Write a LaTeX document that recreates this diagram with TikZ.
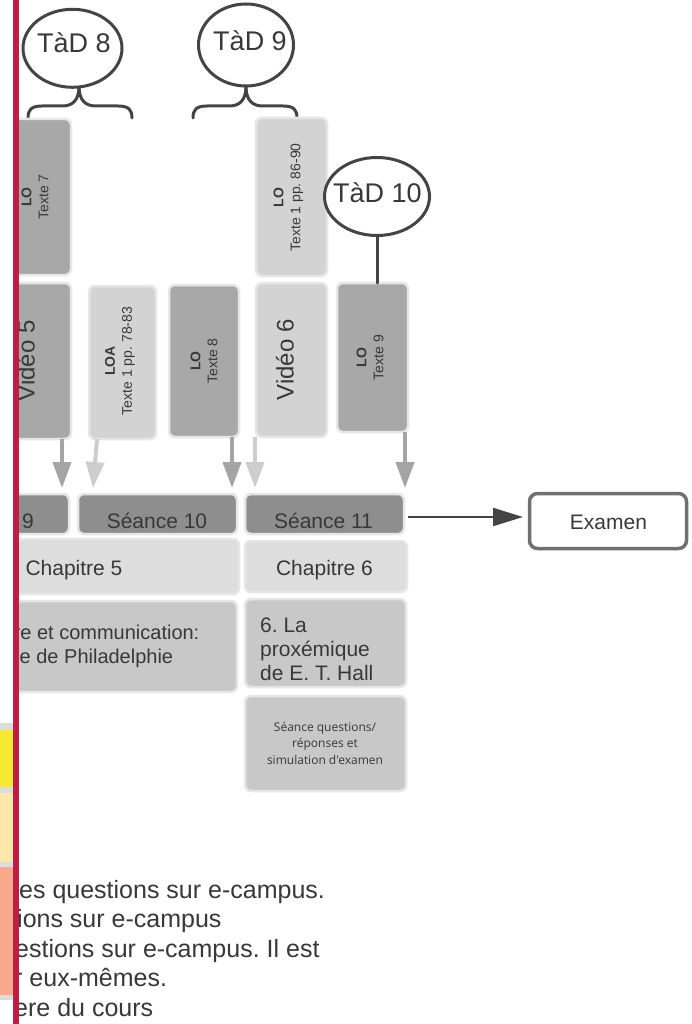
\documentclass[tikz,border=0pt]{standalone}
\usepackage{fontspec}
\setmainfont{Liberation Sans}
\newfontfamily\smallsans{Open Sans}
\usetikzlibrary{arrows.meta,shapes.geometric}
\frenchspacing
\definecolor{dk}{HTML}{A8A8A8}
\definecolor{lt}{HTML}{D3D3D3}
\definecolor{sea}{HTML}{8E8E8E}
\definecolor{chap}{HTML}{DDDDDD}
\definecolor{rowc}{HTML}{C8C8C8}
\definecolor{halo}{HTML}{E6E6E6}
\definecolor{txt}{HTML}{383838}
\definecolor{ink}{HTML}{444444}
\definecolor{adk}{HTML}{A4A4A4}
\definecolor{alt}{HTML}{CDCDCD}
\definecolor{redbar}{HTML}{BE1E44}
\definecolor{yel}{HTML}{F4E930}
\definecolor{pyel}{HTML}{FDE8AA}
\definecolor{salm}{HTML}{F7A98E}
\definecolor{sepc}{HTML}{DCDCDC}
\definecolor{exb}{HTML}{707070}
\begin{document}
\frenchspacing
\begin{tikzpicture}[x=1pt,y=-1pt,
  bx/.style={draw=halo, line width=2.5pt, rounded corners=6pt, inner sep=0pt, outer sep=0pt},
  rtxt/.style={rotate=90, align=center, inner sep=0pt, text=txt, font=\fontsize{14}{17}\selectfont},
  vtxt/.style={rotate=90, inner sep=0pt, text=txt, font=\fontsize{24}{28}\selectfont},
  htxt/.style={inner sep=0pt, text=txt, font=\fontsize{21}{24}\selectfont},
  btxt/.style={inner sep=0pt, anchor=base west, text=txt, font=\fontsize{25}{29}\selectfont},
  ell/.style={ellipse, draw=ink, line width=3pt, fill=white, inner sep=0pt},
  ttxt/.style={inner sep=0pt, text=txt, font=\fontsize{27}{30}\selectfont},
  inkline/.style={draw=ink, line width=3pt, line cap=round},
  darr/.style={draw=adk, line width=4pt, -{Triangle[length=26pt,width=18pt]}},
  larr/.style={draw=alt, line width=4pt, -{Triangle[length=26pt,width=18pt]}},
  exarr/.style={draw=ink, line width=2pt, -{Triangle[length=30pt,width=18pt]}}
]
\useasboundingbox (0,0) rectangle (692,1024);
\fill[white] (0,0) rectangle (692,1024);
\begin{scope}
\clip (18,0) rectangle (692,1024);
% braces
\coordinate (b8l) at (28,118);
\coordinate (b8r) at (132,118);
\coordinate (b8t) at (79,86);
\coordinate (b9l) at (193,118);
\coordinate (b9r) at (297,118);
\coordinate (b9t) at (246,86);
\draw[inkline] (b8l) .. controls (28,110) and (31,106) .. (42,106) -- (62,106) .. controls (73,106) and (79,100) .. (b8t);
\draw[inkline] (b8r) .. controls (132,110) and (129,106) .. (118,106) -- (96,106) .. controls (85,106) and (79,100) .. (b8t);
\draw[inkline] (b9l) .. controls (193,110) and (196,106) .. (207,106) -- (229,106) .. controls (240,106) and (246,100) .. (b9t);
\draw[inkline] (b9r) .. controls (297,110) and (294,106) .. (283,106) -- (263,106) .. controls (252,106) and (246,100) .. (b9t);
% top boxes
\node[bx, fill=dk, minimum width=70, minimum height=156] (lo7) at (36,197) {};
\node[bx, fill=lt, minimum width=71, minimum height=158] (lo86) at (291.5,197) {};
\node[bx, fill=dk, minimum width=72, minimum height=156] (vid5) at (35,361) {};
\node[bx, fill=lt, minimum width=67, minimum height=153] (loa) at (122.5,362.5) {};
\node[bx, fill=dk, minimum width=70, minimum height=152] (lo8) at (204,361) {};
\node[bx, fill=lt, minimum width=71, minimum height=154] (vid6) at (291.5,360) {};
\node[bx, fill=dk, minimum width=71, minimum height=149] (lo9) at (372.5,357.5) {};
% rotated texts
\node[rtxt] (lo7t) at (35,197) {\textbf{LO}\\Texte 7};
\node[rtxt] (lo86t) at (288.5,197.5) {\textbf{LO}\\Texte 1 pp. 86-90};
\node[vtxt] (vid5t) at (26,361) {Vidéo 5};
\node[rtxt] (loat) at (120,361) {\textbf{LOA}\\Texte 1 pp. 78-83};
\node[rtxt] (lo8t) at (204,361) {\textbf{LO}\\Texte 8};
\node[vtxt] (vid6t) at (285,360) {Vidéo 6};
\node[rtxt] (lo9t) at (370,357.5) {\textbf{LO}\\Texte 9};
% ellipses
\node[ell, minimum width=99, minimum height=78] (t8e) at (72.5,48.3) {};
\node[ell, minimum width=95, minimum height=82] (t9e) at (246,45) {};
\node[ell, minimum width=105, minimum height=78] (t10e) at (377,196.5) {};
\node[ttxt] (t8t) at (74,42.5) {TàD 8};
\node[ttxt] (t9t) at (250,41) {TàD 9};
\node[ttxt] (t10t) at (377.5,193) {TàD 10};
\draw[inkline] (t10e.south) -- (t10e.south |- lo9.north);
% seance row
\node[bx, fill=sea, minimum width=68, minimum height=40] (s9) at (35,514) {};
\node[bx, fill=sea, minimum width=159, minimum height=40] (s10) at (157.5,514) {};
\node[bx, fill=sea, minimum width=159, minimum height=40] (s11) at (324.5,514) {};
\node[htxt, anchor=base] (s9t) at (28,528) {9};
\node[htxt, anchor=base] (s10t) at (157,528) {Séance 10};
\node[htxt, anchor=base] (s11t) at (323.5,528) {Séance 11};
% chapitre row
\node[bx, fill=chap, minimum width=238, minimum height=55] (ch5) at (120,566.5) {};
\node[bx, fill=chap, minimum width=162, minimum height=51] (ch6) at (326,566.5) {};
\node[htxt, anchor=base] (ch5t) at (74,575) {Chapitre 5};
\node[htxt, anchor=base] (ch6t) at (324.5,575) {Chapitre 6};
% third row
\node[bx, fill=rowc, minimum width=236, minimum height=91] (r3a) at (119,646.5) {};
\node[bx, fill=rowc, minimum width=161, minimum height=88] (r3b) at (325.5,643) {};
\node[htxt, anchor=base west, font=\fontsize{20}{24}\selectfont] (r3a1) at (13.5,639) {re et communication:};
\node[htxt, anchor=base west, font=\fontsize{20}{24}\selectfont] (r3a2) at (19.5,663) {e de Philadelphie};
\node[htxt, anchor=base west] (r3b1) at (260,632) {6. La};
\node[htxt, anchor=base west] (r3b2) at (260,656) {proxémique};
\node[htxt, anchor=base west] (r3b3) at (260,680) {de E. T. Hall};
\node[bx, fill=rowc, minimum width=161, minimum height=95] (sq) at (325.5,743.5) {};
\node[inner sep=0pt, align=center, text=txt, font=\smallsans\fontsize{12}{16.5}\selectfont] (sqt) at (325,743) {Séance questions/\\réponses et\\simulation d'examen};
% examen
\node[draw=exb, line width=3.5pt, rounded corners=8pt, fill=white, minimum width=157, minimum height=55, inner sep=0pt] (ex) at (608,521) {};
\node[htxt, anchor=base] (ext) at (608.5,529) {Examen};
\coordinate (exa) at (523,517);
\draw[exarr, shorten <=4pt] (s11.east |- exa) -- (exa);
% arrows down
\coordinate (a1) at (62,488);
\coordinate (a2) at (93,488);
\coordinate (a3) at (232,488);
\coordinate (a4) at (255,488);
\coordinate (a5) at (405,488);
\draw[darr] ([xshift=27pt]vid5.south) -- (a1);
\draw[larr] ([xshift=-25.5pt]loa.south) -- (a2);
\draw[darr] ([xshift=28pt]lo8.south) -- (a3);
\draw[larr] ([xshift=-36.5pt]vid6.south) -- (a4);
\draw[darr] ([xshift=32.5pt]lo9.south) -- (a5);
% bottom text
\node[btxt] (l1) at (19,898) {es questions sur e-campus.};
\node[btxt] (l2) at (17,927.5) {ions sur e-campus};
\node[btxt] (l3) at (15,957) {estions sur e-campus. Il est};
\node[btxt] (l4) at (14,986.5) {r eux-mêmes.};
\node[btxt] (l5) at (14,1016) {ere du cours};
\end{scope}
% left strips
\fill[sepc] (0,723) rectangle (13,730);
\fill[yel] (0,730) rectangle (13,787);
\fill[sepc] (0,787) rectangle (13,793);
\fill[pyel] (0,793) rectangle (13,862);
\fill[sepc] (0,862) rectangle (13,867);
\fill[salm] (0,867) rectangle (13,995);
\fill[sepc] (0,995) rectangle (13,1000);
\fill[redbar] (13,0) rectangle (18.5,1024);
\end{tikzpicture}
\end{document}
